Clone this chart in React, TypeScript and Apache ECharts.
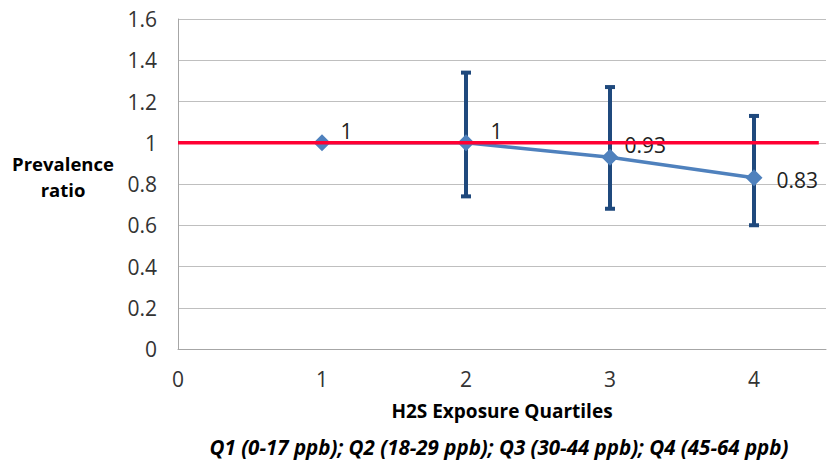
import React, { useEffect, useRef } from "react";
import * as echarts from "echarts";

const quartiles = [1, 2, 3, 4];
const ratios = [1, 1, 0.93, 0.83];
const lowerCI: (number | null)[] = [null, 0.74, 0.68, 0.6];
const upperCI: (number | null)[] = [null, 1.34, 1.27, 1.13];
const referenceLine = [
  [0, 1],
  [4.45, 1],
];
const labelOffsets = [
  [2, -12],
  [8, -12],
  [-2, -12],
  [6, 2],
];

const FONT = "'Open Sans', Lato, sans-serif";

export default function App() {
  const ref = useRef<HTMLDivElement>(null);
  useEffect(() => {
    if (!ref.current) return;
    const chart = echarts.init(ref.current, undefined, { renderer: "svg" });
    const errData = quartiles
      .map((q, i) => [q, lowerCI[i], upperCI[i]])
      .filter((d) => d[1] != null && d[2] != null);
    chart.setOption({
      animation: false,
      textStyle: { fontFamily: FONT },
      grid: { left: 178, right: 2, top: 19, bottom: 114 },
      xAxis: {
        type: "value",
        min: 0,
        max: 4.5,
        interval: 1,
        name: "H2S Exposure Quartiles",
        nameLocation: "middle",
        nameGap: 52,
        nameTextStyle: { fontSize: 19, fontWeight: "bold", color: "#000", fontFamily: FONT },
        axisLine: { show: true, lineStyle: { color: "#A6A6A6", width: 1 } },
        axisTick: { show: false },
        splitLine: { show: false },
        axisLabel: {
          fontSize: 21,
          color: "#333",
          margin: 19,
          fontFamily: FONT,
          formatter: (v: number) => (Number.isInteger(v) ? String(v) : ""),
        },
      },
      yAxis: {
        type: "value",
        min: 0,
        max: 1.6,
        interval: 0.2,
        axisLine: { show: true, lineStyle: { color: "#A6A6A6", width: 1 } },
        axisTick: { show: false },
        splitLine: { show: true, lineStyle: { color: "#BFBFBF", width: 1 } },
        axisLabel: {
          fontSize: 21,
          color: "#333",
          margin: 21,
          fontFamily: FONT,
          formatter: (v: number) => String(Math.round(v * 10) / 10),
        },
      },
      graphic: [
        {
          type: "text",
          x: 63,
          y: 150,
          style: {
            text: "Prevalence\nratio",
            textAlign: "center",
            fill: "#000",
            lineHeight: 26,
            font: `bold 18.5px ${FONT}`,
          },
        },
        {
          type: "text",
          x: 499,
          y: 437,
          style: {
            text: "Q1 (0-17 ppb); Q2 (18-29 ppb); Q3 (30-44 ppb); Q4 (45-64 ppb)",
            textAlign: "center",
            fill: "#000",
            font: `italic bold 20.5px ${FONT}`,
          },
        },
      ],
      series: [
        {
          type: "custom",
          z: 3,
          renderItem: (params: any, api: any) => {
            const x = api.value(0);
            const top = api.coord([x, api.value(2)]);
            const bot = api.coord([x, api.value(1)]);
            const hw = 5;
            const style = { stroke: "#1F497D", lineWidth: 4 };
            return {
              type: "group",
              children: [
                { type: "line", shape: { x1: top[0], y1: top[1], x2: bot[0], y2: bot[1] }, style },
                { type: "line", shape: { x1: top[0] - hw, y1: top[1], x2: top[0] + hw, y2: top[1] }, style },
                { type: "line", shape: { x1: bot[0] - hw, y1: bot[1], x2: bot[0] + hw, y2: bot[1] }, style },
              ],
            };
          },
          data: errData,
        },
        {
          type: "line",
          z: 4,
          data: quartiles.map((q, i) => ({
            value: [q, ratios[i]],
            label: { offset: labelOffsets[i] },
          })),
          symbol: "diamond",
          symbolSize: 17,
          lineStyle: { color: "#4F81BD", width: 3.5 },
          itemStyle: { color: "#4F81BD" },
          label: {
            show: true,
            position: "right",
            distance: 8,
            fontSize: 21,
            color: "#222",
            fontFamily: FONT,
            formatter: (p: any) => String(p.value[1]),
          },
        },
        {
          type: "line",
          z: 5,
          data: referenceLine,
          symbol: "none",
          lineStyle: { color: "#FF0033", width: 3.5 },
          silent: true,
        },
      ],
    });
    return () => chart.dispose();
  }, []);
  return (
    <div
      ref={ref}
      style={{ position: "fixed", left: 0, top: 0, width: 829, height: 463, background: "#fff" }}
    />
  );
}
